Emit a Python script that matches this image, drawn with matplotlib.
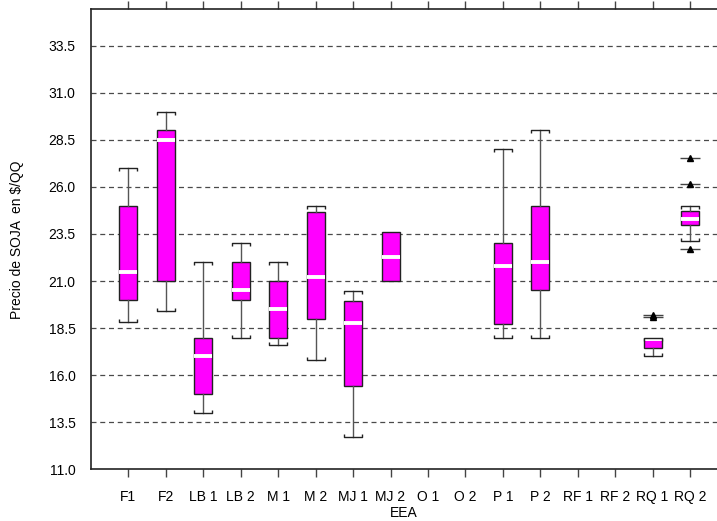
import numpy as np
import matplotlib.pyplot as plt
from matplotlib.path import Path

plt.rcParams['font.family'] = ['Liberation Sans', 'DejaVu Sans']

# Stations (EEA) and box statistics of soybean price, $/QQ
labels = ['F1', 'F2', 'LB 1', 'LB 2', 'M 1', 'M 2', 'MJ 1', 'MJ 2',
          'O 1', 'O 2', 'P 1', 'P 2', 'RF 1', 'RF 2', 'RQ 1', 'RQ 2']
whislo = [18.8, 19.4, 14.0, 18.0, 17.6, 16.8, 12.7, 21.0,
          None, None, 18.0, 18.0, None, None, 17.0, 23.1]
q1 = [20.0, 21.0, 15.0, 20.0, 18.0, 19.0, 15.4, 21.0,
      None, None, 18.7, 20.5, None, None, 17.45, 24.0]
med = [21.5, 28.5, 17.0, 20.5, 19.5, 21.2, 18.75, 22.3,
       None, None, 21.8, 22.0, None, None, 17.9, 24.3]
q3 = [25.0, 29.0, 18.0, 22.0, 21.0, 24.65, 19.95, 23.6,
      None, None, 23.0, 25.0, None, None, 17.95, 24.7]
whishi = [27.0, 30.0, 22.0, 23.0, 22.0, 25.0, 20.45, 23.6,
          None, None, 28.0, 29.0, None, None, 18.0, 25.0]
fliers = {'RQ 1': [19.1, 19.2], 'RQ 2': [22.7, 26.15, 27.55]}

yticks = np.arange(11.0, 33.6, 2.5)

fig = plt.figure(figsize=(7.17, 5.21), dpi=100)
ax = fig.add_axes([0.1269, 0.0992, 0.8731, 0.8829])

stats, pos = [], []
for i, lab in enumerate(labels):
    if med[i] is None:
        continue
    stats.append(dict(whislo=whislo[i], q1=q1[i], med=med[i], q3=q3[i],
                      whishi=whishi[i], fliers=[]))
    pos.append(i + 1)

ax.bxp(stats, positions=pos, widths=0.48, patch_artist=True,
       showcaps=False, showfliers=False,
       boxprops=dict(facecolor='#ff00ff', edgecolor='#222222', linewidth=1.0),
       medianprops=dict(color='white', linewidth=2.8, solid_capstyle='butt'),
       whiskerprops=dict(color='#555555', linewidth=1.0))

# bracket-shaped caps at whisker ends
top_cap = Path([(-1, -0.35), (-1, 0), (1, 0), (1, -0.35)],
               [Path.MOVETO, Path.LINETO, Path.LINETO, Path.LINETO])
bot_cap = Path([(-1, 0.35), (-1, 0), (1, 0), (1, 0.35)],
               [Path.MOVETO, Path.LINETO, Path.LINETO, Path.LINETO])
for i in range(len(labels)):
    if med[i] is None:
        continue
    if whishi[i] > q3[i]:
        ax.plot(i + 1, whishi[i], marker=top_cap, markersize=13,
                markerfacecolor='none', markeredgecolor='#222222',
                markeredgewidth=1.0, zorder=4)
    if whislo[i] < q1[i]:
        ax.plot(i + 1, whislo[i], marker=bot_cap, markersize=13,
                markerfacecolor='none', markeredgecolor='#222222',
                markeredgewidth=1.0, zorder=4)

for lab, vals in fliers.items():
    x = np.full(len(vals), labels.index(lab) + 1)
    ax.plot(x, vals, linestyle='none', marker='_', markersize=14,
            markeredgecolor='#444444', markeredgewidth=1.0, zorder=4)
    ax.plot(x, vals, linestyle='none', marker='^', markersize=5,
            color='black', zorder=5)

ax.set_xlim(0, 16.72)
ax.set_ylim(11.0, 35.43)
ax.set_yticks(yticks)
ax.set_yticklabels(['%.1f' % v for v in yticks])
ax.set_xticks(range(1, len(labels) + 1))
ax.set_xticklabels(labels)

for v in yticks[1:]:
    ax.axhline(v, color='#4a4a4a', linestyle=(0, (4, 3)), linewidth=0.9,
               zorder=0)

ax.spines['right'].set_visible(False)
for s in ('left', 'top', 'bottom'):
    ax.spines[s].set_linewidth(1.2)
    ax.spines[s].set_color('#222222')

ax.tick_params(axis='y', length=0, pad=11, labelsize=10)
ax.tick_params(axis='x', top=True, direction='out', length=6, width=1,
               color='#444444', labelsize=10, pad=9)

ax.set_xlabel('EEA', fontsize=10, labelpad=1)
ax.set_ylabel('Precio de SOJA  en $/QQ', fontsize=10, labelpad=18)

fig.savefig('out.png', dpi=100)
